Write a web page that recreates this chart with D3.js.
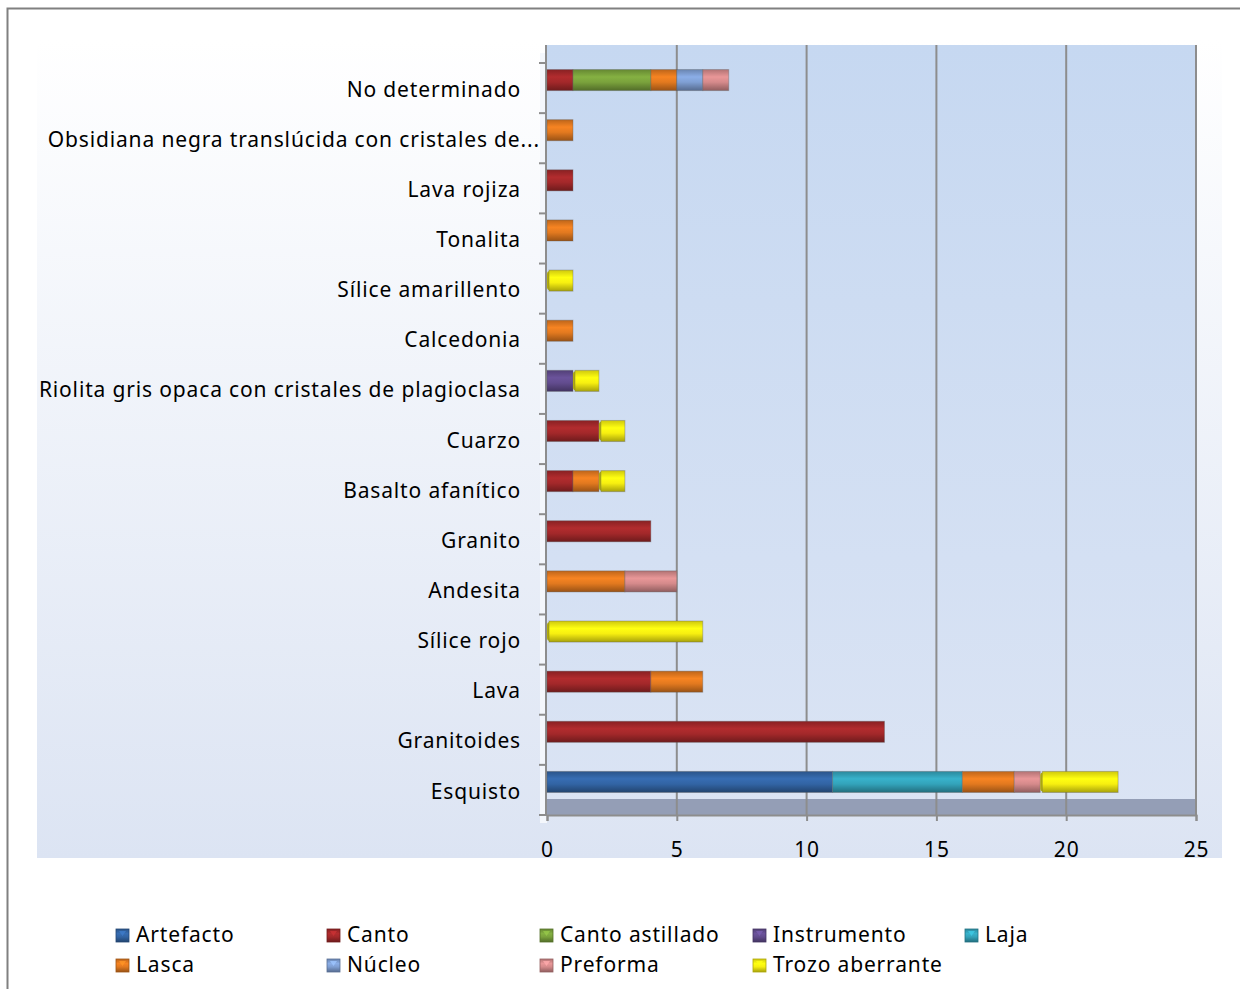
<!DOCTYPE html>
<html><head><meta charset="utf-8">
<script src="https://cdn.jsdelivr.net/npm/d3@7/dist/d3.min.js"></script>
<style>body{margin:0;background:#fff}svg{display:block}</style>
</head><body>
<script>
const categories = ["No determinado","Obsidiana negra translúcida con cristales de...","Lava rojiza","Tonalita","Sílice amarillento","Calcedonia","Riolita gris opaca con cristales de plagioclasa","Cuarzo","Basalto afanítico","Granito","Andesita","Sílice rojo","Lava","Granitoides","Esquisto"];
const seriesNames = ["Artefacto","Canto","Canto astillado","Instrumento","Laja","Lasca","Núcleo","Preforma","Trozo aberrante"];
const seriesColors = ["#3264a4","#a3282a","#7aa23c","#624c8e","#33a3ba","#e2791f","#7f9fd3","#d58a8b","#f7ef10"];
// values per series, aligned with categories
const artefacto      = [0,0,0,0,0,0,0,0,0,0,0,0,0,0,11];
const canto          = [1,0,1,0,0,0,0,2,1,4,0,0,4,13,0];
const cantoAstillado = [3,0,0,0,0,0,0,0,0,0,0,0,0,0,0];
const instrumento    = [0,0,0,0,0,0,1,0,0,0,0,0,0,0,0];
const laja           = [0,0,0,0,0,0,0,0,0,0,0,0,0,0,5];
const lasca          = [1,1,0,1,0,1,0,0,1,0,3,0,2,0,2];
const nucleo         = [1,0,0,0,0,0,0,0,0,0,0,0,0,0,0];
const preforma       = [1,0,0,0,0,0,0,0,0,0,2,0,0,0,1];
const trozoAberrante = [0,0,0,0,1,0,1,1,1,0,0,6,0,0,3];
const xTicks = [0,5,10,15,20,25];

const seriesValues = [artefacto,canto,cantoAstillado,instrumento,laja,lasca,nucleo,preforma,trozoAberrante];
const table = categories.map((c,i)=>{const o={cat:c};seriesNames.forEach((s,j)=>o[s]=seriesValues[j][i]);return o;});
const stacked = d3.stack().keys(seriesNames)(table);

const W=1240,H=989;
const svg=d3.select("body").append("svg").attr("width",W).attr("height",H);
const defs=svg.append("defs");
const font="'Noto Sans', 'Open Sans', sans-serif";
const fs=21, ls="0.85px";

// background gradients
const og=defs.append("linearGradient").attr("id","outerBg").attr("x1",0).attr("y1",0).attr("x2",0).attr("y2",1);
og.append("stop").attr("offset",0).attr("stop-color","#ffffff");
og.append("stop").attr("offset",1).attr("stop-color","#dce4f3");
const ig=defs.append("linearGradient").attr("id","innerBg").attr("x1",0).attr("y1",0).attr("x2",0).attr("y2",1);
ig.append("stop").attr("offset",0).attr("stop-color","#c6d8f1");
ig.append("stop").attr("offset",1).attr("stop-color","#dbe4f4");

seriesColors.forEach((c,i)=>{
  const g=defs.append("linearGradient").attr("id","g"+i).attr("x1",0).attr("y1",0).attr("x2",0).attr("y2",1);
  const col=d3.color(c);
  g.append("stop").attr("offset",0).attr("stop-color",col.darker(0.5));
  g.append("stop").attr("offset",0.35).attr("stop-color",col.brighter(0.25));
  g.append("stop").attr("offset",0.6).attr("stop-color",col);
  g.append("stop").attr("offset",1).attr("stop-color",col.darker(1.1));
});

// outer frame
svg.append("rect").attr("x",7.5).attr("y",8.5).attr("width",1300).attr("height",1100).attr("fill","#fff").attr("stroke","#808080").attr("stroke-width",2);
// plot area
svg.append("rect").attr("x",37).attr("y",40).attr("width",1185).attr("height",818).attr("fill","url(#outerBg)");

const x=d3.scaleLinear().domain([0,25]).range([547,1196]);
const y=d3.scaleBand().domain(categories).range([55,807]).paddingInner(0.58).paddingOuter(0.29);
const off=8; // 3D depth offset

// back wall
svg.append("rect").attr("x",x(0)).attr("y",45).attr("width",x(25)-x(0)).attr("height",815-45).attr("fill","url(#innerBg)");
// side wall
svg.append("rect").attr("x",540).attr("y",45+off).attr("width",7).attr("height",815-45).attr("fill","#f4f7fc");
// floor
svg.append("rect").attr("x",x(0)).attr("y",799).attr("width",x(25)-x(0)).attr("height",16).attr("fill","#949eb6");

// gridlines
svg.append("g").selectAll("line").data(xTicks.slice(1)).join("line")
  .attr("x1",d=>x(d)).attr("x2",d=>x(d)).attr("y1",45).attr("y2",815)
  .attr("stroke","#8d8d8d").attr("stroke-width",2);

// x axis
const xa=svg.append("g").attr("transform","translate(0,815)")
  .call(d3.axisBottom(x).tickValues(xTicks).tickSize(6).tickPadding(21));
xa.select(".domain").attr("stroke","#8d8d8d").attr("stroke-width",2);
xa.selectAll(".tick line").attr("stroke","#8d8d8d").attr("stroke-width",2);
xa.selectAll("text").attr("font-family",font).attr("font-size",fs).attr("letter-spacing",ls).attr("fill","#000");

// y axis line and ticks at band boundaries
svg.append("line").attr("x1",546).attr("x2",546).attr("y1",45).attr("y2",815).attr("stroke","#8d8d8d").attr("stroke-width",2);
const bounds=categories.map(c=>y(c)-y.step()*y.paddingInner()/2).concat([y.range()[1]]);
svg.append("g").selectAll("line").data(bounds).join("line")
  .attr("x1",539).attr("x2",547).attr("y1",d=>d+off).attr("y2",d=>d+off)
  .attr("stroke","#8d8d8d").attr("stroke-width",2);

// category labels
svg.append("g").selectAll("text").data(categories).join("text")
  .attr("x",d=>d.endsWith("...")?540:521)
  .attr("y",d=>y(d)+y.bandwidth()/2+off+3)
  .attr("dominant-baseline","middle").attr("text-anchor","end")
  .attr("font-family",font).attr("font-size",fs).attr("letter-spacing",ls).attr("fill","#000").text(d=>d);

// bars
const bh=y.bandwidth();
stacked.forEach((layer,si)=>{
  const g=svg.append("g");
  layer.forEach((d,ci)=>{
    if(d[1]-d[0]<=0) return;
    const cat=categories[ci];
    const x0=x(d[0]),x1=x(d[1]),yy=y(cat);
    if(seriesNames[si]==="Trozo aberrante"){
      g.append("rect").attr("x",x0).attr("y",yy+1).attr("width",6).attr("height",bh-2).attr("rx",3)
        .attr("fill",d3.color(seriesColors[si]).darker(0.9));
      g.append("rect").attr("x",x0+2).attr("y",yy).attr("width",x1-x0-2).attr("height",bh)
        .attr("fill","url(#g"+si+")").attr("stroke","rgba(90,90,90,0.35)").attr("stroke-width",1);
    } else {
      g.append("rect").attr("x",x0).attr("y",yy).attr("width",x1-x0).attr("height",bh)
        .attr("fill","url(#g"+si+")").attr("stroke","rgba(90,90,90,0.35)").attr("stroke-width",1);
    }
  });
});

// legend
const legX=[116,327,540,753,965];
const leg=svg.append("g");
seriesNames.forEach((s,i)=>{
  const row=Math.floor(i/5),col=i%5;
  const lx=legX[col],ly=935+row*30;
  leg.append("rect").attr("x",lx).attr("y",ly-6).attr("width",13).attr("height",13)
    .attr("fill","url(#g"+i+")").attr("stroke",d3.color(seriesColors[i]).darker(1)).attr("stroke-width",0.8);
  leg.append("path").attr("d",`M${lx+3},${ly-4}L${lx+10},${ly-4}L${lx+6.5},${ly+1}Z`).attr("fill",d3.color(seriesColors[i]).brighter(0.6)).attr("opacity",0.8);
  leg.append("text").attr("x",lx+20).attr("y",ly+1).attr("dominant-baseline","middle")
    .attr("font-family",font).attr("font-size",fs).attr("letter-spacing",ls).attr("fill","#000").text(s);
});
</script>
</body></html>
